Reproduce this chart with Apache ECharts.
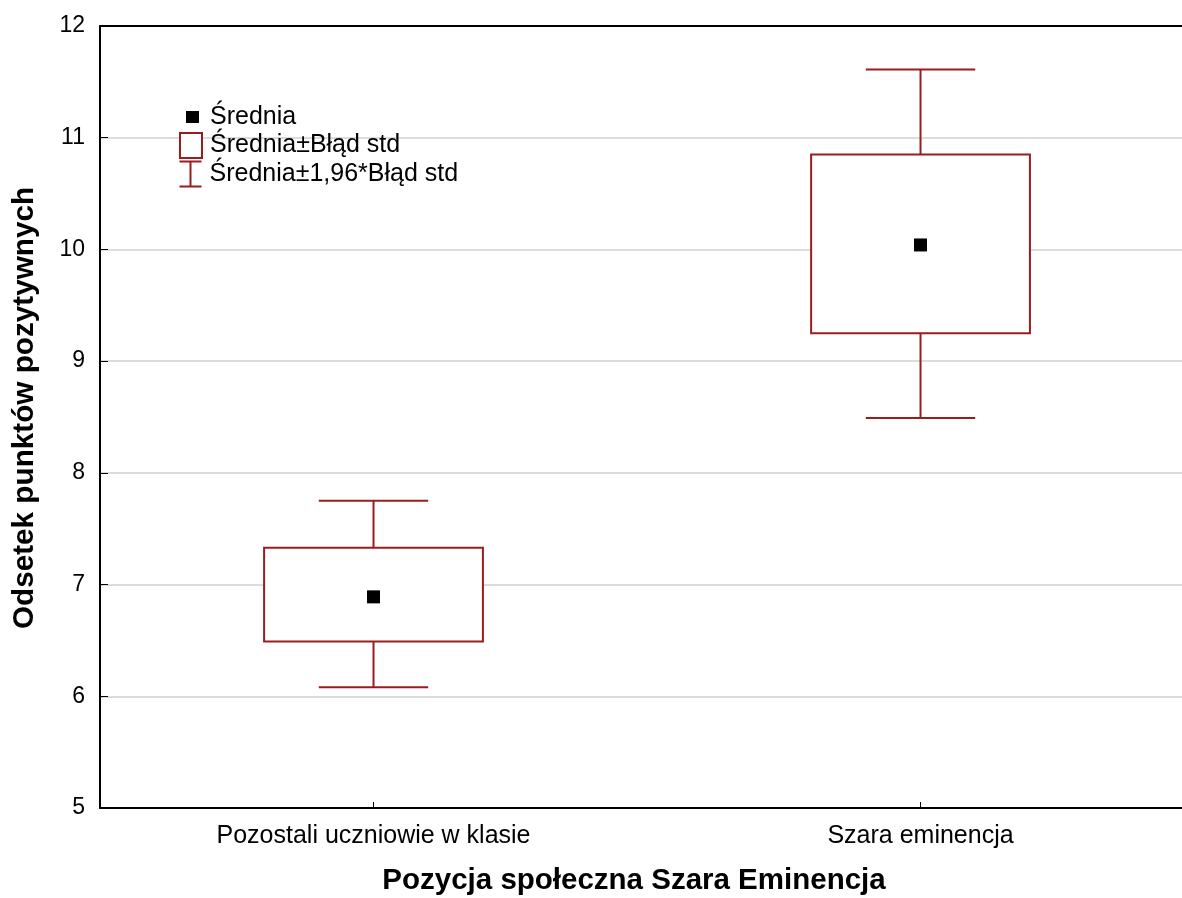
<!DOCTYPE html>
<html>
<head>
<meta charset="utf-8">
<script src="https://cdn.jsdelivr.net/npm/echarts@6/dist/echarts.min.js"></script>
<style>html,body{margin:0;padding:0;background:#fff}#c{width:1182px;height:898px}</style>
</head>
<body>
<div id="c"></div>
<script>
var categories = ['Pozostali uczniowie w klasie', 'Szara eminencja'];
var means = [6.89, 10.04];
var seLow = [6.49, 9.25];
var seHigh = [7.33, 10.85];
var ciLow = [6.08, 8.49];
var ciHigh = [7.75, 11.61];
var yTicks = [5, 6, 7, 8, 9, 10, 11, 12];
var catPositions = [0, 1];

var RED = '#9a1c1f';
var FONT = '"Liberation Sans", Arial, sans-serif';

var chart = echarts.init(document.getElementById('c'), null, {renderer: 'canvas'});

var boxData = categories.map(function (c, i) { return [catPositions[i], seLow[i], seHigh[i]]; });
var ciData = categories.map(function (c, i) { return [catPositions[i], ciLow[i], ciHigh[i]]; });
var meanData = categories.map(function (c, i) { return [catPositions[i], means[i]]; });

var legendText = {fontSize: 25, lineHeight: 25, color: '#000', fontFamily: FONT, padding: [0, 0, 0, 3]};
function mkLegend(left, top, item) {
  return {left: left, top: top, orient: 'vertical', padding: 0, itemWidth: 22, itemHeight: 25,
    textStyle: legendText, selectedMode: false, data: [item]};
}

chart.setOption({
  animation: false,
  backgroundColor: '#fff',
  textStyle: {fontFamily: FONT},
  grid: {left: 100, top: 26, right: 0, bottom: 90, show: false, outerBoundsMode: 'none', containLabel: false},
  legend: [
    mkLegend(180, 105, {name: 'Średnia', icon: 'path://M0,0M22,25M6,6h13v12h-13z', itemStyle: {color: '#000', borderWidth: 0, opacity: 1}}),
    mkLegend(179, 132, {name: 'Średnia±Błąd std', icon: 'rect', itemStyle: {color: '#fff', borderColor: RED, borderWidth: 2}}),
    mkLegend(177, 159, {name: 'Średnia±1,96*Błąd std', icon: 'path://M0,0L22,0M11,0L11,25M0,25L22,25', itemStyle: {color: 'none', borderColor: RED, borderWidth: 2}})
  ],
  xAxis: [{
    type: 'value', min: -0.5, max: 1.478,
    axisLine: {show: true, onZero: false, lineStyle: {color: '#000', width: 2}},
    axisTick: {show: true, inside: true, length: 6, customValues: catPositions, lineStyle: {color: '#000', width: 1}},
    axisLabel: {fontSize: 25, color: '#000', margin: 16, fontFamily: FONT, customValues: catPositions,
      formatter: function (v) { var i = catPositions.indexOf(v); return i >= 0 ? categories[i] : ''; }},
    splitLine: {show: false},
    name: 'Pozycja społeczna Szara Eminencja', nameLocation: 'middle', nameGap: 58,
    nameTextStyle: {fontSize: 29.5, fontWeight: 'bold', color: '#000', fontFamily: FONT, padding: [0, 14, 0, 0]}
  }, {
    type: 'value', position: 'top', min: -0.5, max: 1.478,
    axisLine: {show: true, onZero: false, lineStyle: {color: '#000', width: 2}},
    axisTick: {show: false}, axisLabel: {show: false}, splitLine: {show: false}
  }],
  yAxis: {
    type: 'value', min: 5, max: 12, interval: 1,
    axisLine: {show: true, onZero: false, lineStyle: {color: '#000', width: 2}},
    axisTick: {show: true, inside: true, length: 8, lineStyle: {color: '#000'}},
    axisLabel: {fontSize: 23, color: '#000', margin: 15, fontFamily: FONT,
      formatter: function (v) { return yTicks.indexOf(v) >= 0 ? String(v) : ''; }},
    splitLine: {show: true, lineStyle: {color: '#dcdcdc', width: 2}},
    name: 'Odsetek punktów pozytywnych', nameLocation: 'middle', nameGap: 60,
    nameTextStyle: {fontSize: 29.7, fontWeight: 'bold', color: '#000', fontFamily: FONT, padding: [0, 0, 0, 18]}
  },
  series: [
    {
      name: 'Średnia±1,96*Błąd std', type: 'custom', data: ciData, z: 2,
      itemStyle: {color: RED},
      renderItem: function (params, api) {
        var x = api.value(0);
        var lo = api.coord([x, api.value(1)]);
        var hi = api.coord([x, api.value(2)]);
        var w = api.size([1, 0])[0] * 0.2;
        var st = {stroke: RED, lineWidth: 2};
        return {type: 'group', children: [
          {type: 'line', shape: {x1: lo[0], y1: lo[1], x2: hi[0], y2: hi[1]}, style: st},
          {type: 'line', shape: {x1: lo[0] - w / 2, y1: lo[1], x2: lo[0] + w / 2, y2: lo[1]}, style: st},
          {type: 'line', shape: {x1: hi[0] - w / 2, y1: hi[1], x2: hi[0] + w / 2, y2: hi[1]}, style: st}
        ]};
      }
    },
    {
      name: 'Średnia±Błąd std', type: 'custom', data: boxData, z: 3,
      itemStyle: {color: RED},
      renderItem: function (params, api) {
        var x = api.value(0);
        var lo = api.coord([x, api.value(1)]);
        var hi = api.coord([x, api.value(2)]);
        var w = api.size([1, 0])[0] * 0.4;
        return {type: 'rect', shape: {x: lo[0] - w / 2, y: hi[1], width: w, height: lo[1] - hi[1]},
          style: {fill: '#fff', stroke: RED, lineWidth: 2}};
      }
    },
    {
      name: 'Średnia', type: 'scatter', data: meanData, z: 4,
      symbol: 'rect', symbolSize: 13, itemStyle: {color: '#000', opacity: 1}
    }
  ]
});
</script>
</body>
</html>
